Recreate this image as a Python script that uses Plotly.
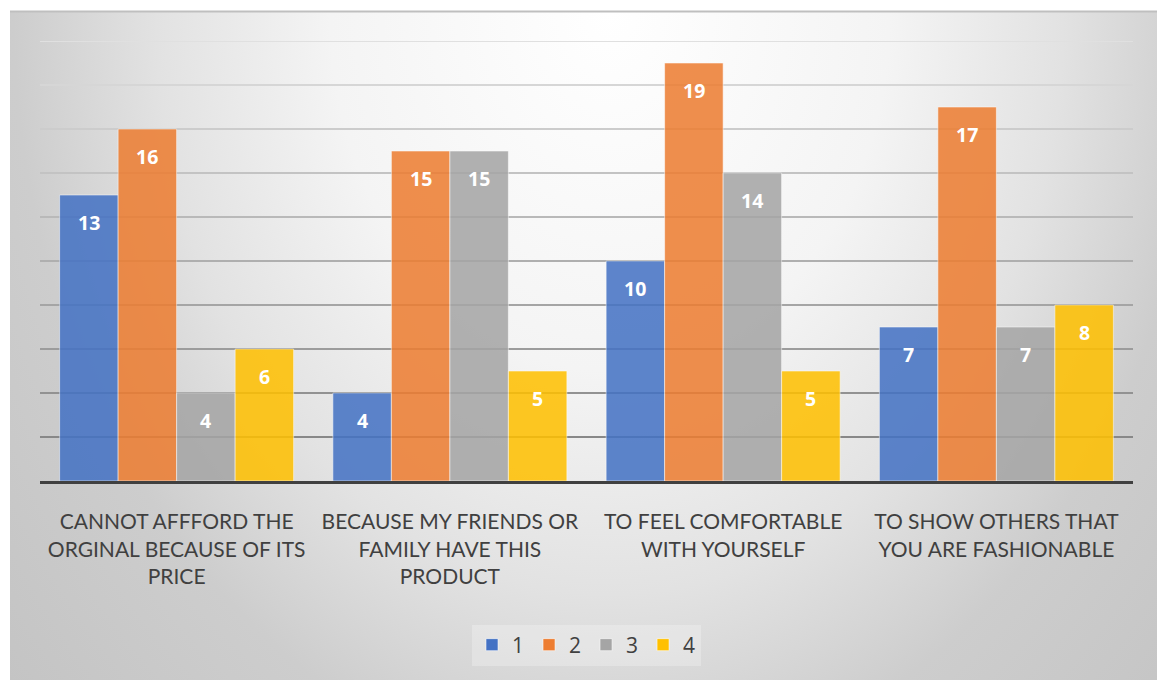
import base64
import plotly.graph_objects as go

# Survey reasons (categories) and counts per response group
categories = [
    "CANNOT AFFFORD THE<br>ORGINAL BECAUSE OF ITS<br>PRICE",
    "BECAUSE MY FRIENDS OR<br>FAMILY HAVE THIS<br>PRODUCT",
    "TO FEEL COMFORTABLE<br>WITH YOURSELF",
    "TO SHOW OTHERS THAT<br>YOU ARE FASHIONABLE",
]
series_names = ["1", "2", "3", "4"]
series_1 = [13, 4, 10, 7]
series_2 = [16, 15, 19, 17]
series_3 = [4, 15, 14, 7]
series_4 = [6, 5, 5, 8]
series_values = [series_1, series_2, series_3, series_4]
grid_levels = [2, 4, 6, 8, 10, 12, 14, 16, 18, 20]

colors = ["#4472C4", "#ED7D31", "#A5A5A5", "#FFC000"]
W, H = 1157, 680
ML, MR, MT, MB = 40, 24, 41, 199
BARGAP = 0.1435
slot = (1 - BARGAP) / len(series_values)

x_idx = list(range(len(categories)))

fig = go.Figure()
for name, vals, col in zip(series_names, series_values, colors):
    fig.add_trace(go.Bar(
        x=x_idx, y=vals, name=name,
        marker=dict(color=col, opacity=0.86,
                    line=dict(color="rgba(255,255,255,0.55)", width=1)),
        hoverinfo="skip",
    ))

# value labels inside the top of each bar
annotations = []
for j, vals in enumerate(series_values):
    for i, v in enumerate(vals):
        annotations.append(dict(
            x=i + (j - 1.5) * slot, y=v, xref="x", yref="y",
            text=str(v), showarrow=False, yanchor="middle", yshift=-27,
            font=dict(family="Open Sans", size=19.5, color="white", weight="bold"),
        ))

# horizontal gridlines, dark near the baseline and fading upward
shapes = []
n = len(grid_levels)
for k, lv in enumerate(grid_levels):
    t = k / (n - 1)
    g = int(round(0x88 + t * (0xE0 - 0x88)))
    shapes.append(dict(
        type="line", xref="paper", yref="y", x0=0, x1=1, y0=lv, y1=lv,
        line=dict(color=f"rgb({g},{g},{g})", width=2), layer="below",
    ))

# top edge of the chart panel
pw, ph = W - ML - MR, H - MT - MB
px = lambda p: (p - ML) / pw
py = lambda p: 1 - (p - MT) / ph
shapes.append(dict(type="line", xref="paper", yref="paper",
                   x0=px(10), x1=px(W), y0=py(11.5), y1=py(11.5),
                   line=dict(color="#bfbfbf", width=2), layer="below"))

# radial grey panel background
svg = f"""<svg xmlns='http://www.w3.org/2000/svg' width='1147' height='669' viewBox='0 0 1147 669' preserveAspectRatio='none'>
<defs><radialGradient id='g' gradientUnits='userSpaceOnUse' cx='0' cy='0' r='1'
 gradientTransform='translate(600,0) scale(840,1080)'>
<stop offset='0' stop-color='#ffffff'/>
<stop offset='0.333' stop-color='#f4f4f4'/>
<stop offset='0.54' stop-color='#e2e2e2'/>
<stop offset='0.71' stop-color='#cdcdcd'/>
<stop offset='1' stop-color='#c2c2c2'/>
</radialGradient></defs>
<rect x='0' y='0' width='1147' height='669' fill='url(#g)'/>
</svg>"""
src = "data:image/svg+xml;base64," + base64.b64encode(svg.encode()).decode()

fig.update_layout(
    width=W, height=H, autosize=False,
    margin=dict(l=ML, r=MR, t=MT, b=MB, pad=0),
    paper_bgcolor="white", plot_bgcolor="rgba(0,0,0,0)",
    barmode="group", bargap=BARGAP, bargroupgap=0,
    images=[dict(source=src, xref="paper", yref="paper",
                 x=px(10), y=py(11), sizex=(W - 10) / pw, sizey=(H - 11) / ph,
                 xanchor="left", yanchor="top", sizing="stretch", layer="below")],
    shapes=shapes,
    annotations=annotations,
    showlegend=True,
    legend=dict(orientation="h", x=0.5, xanchor="center", y=py(645), yanchor="middle",
                bgcolor="rgba(255,255,255,0.25)",
                font=dict(family="Open Sans", size=21, color="#404040"),
                itemclick=False, itemdoubleclick=False),
    font=dict(family="Open Sans", color="#404040"),
)
fig.update_xaxes(
    range=[-0.5, 3.5], tickvals=x_idx, ticktext=categories,
    showgrid=False, zeroline=False, showline=True, linecolor="#404040", linewidth=3,
    ticks="", tickfont=dict(family="Lato", size=21, color="#404040"),
    ticklabelstandoff=20, fixedrange=True,
)
fig.update_yaxes(range=[0, 20], showgrid=False, zeroline=False, showticklabels=False,
                 fixedrange=True)

fig.write_html("out.html", config={"displayModeBar": False})
